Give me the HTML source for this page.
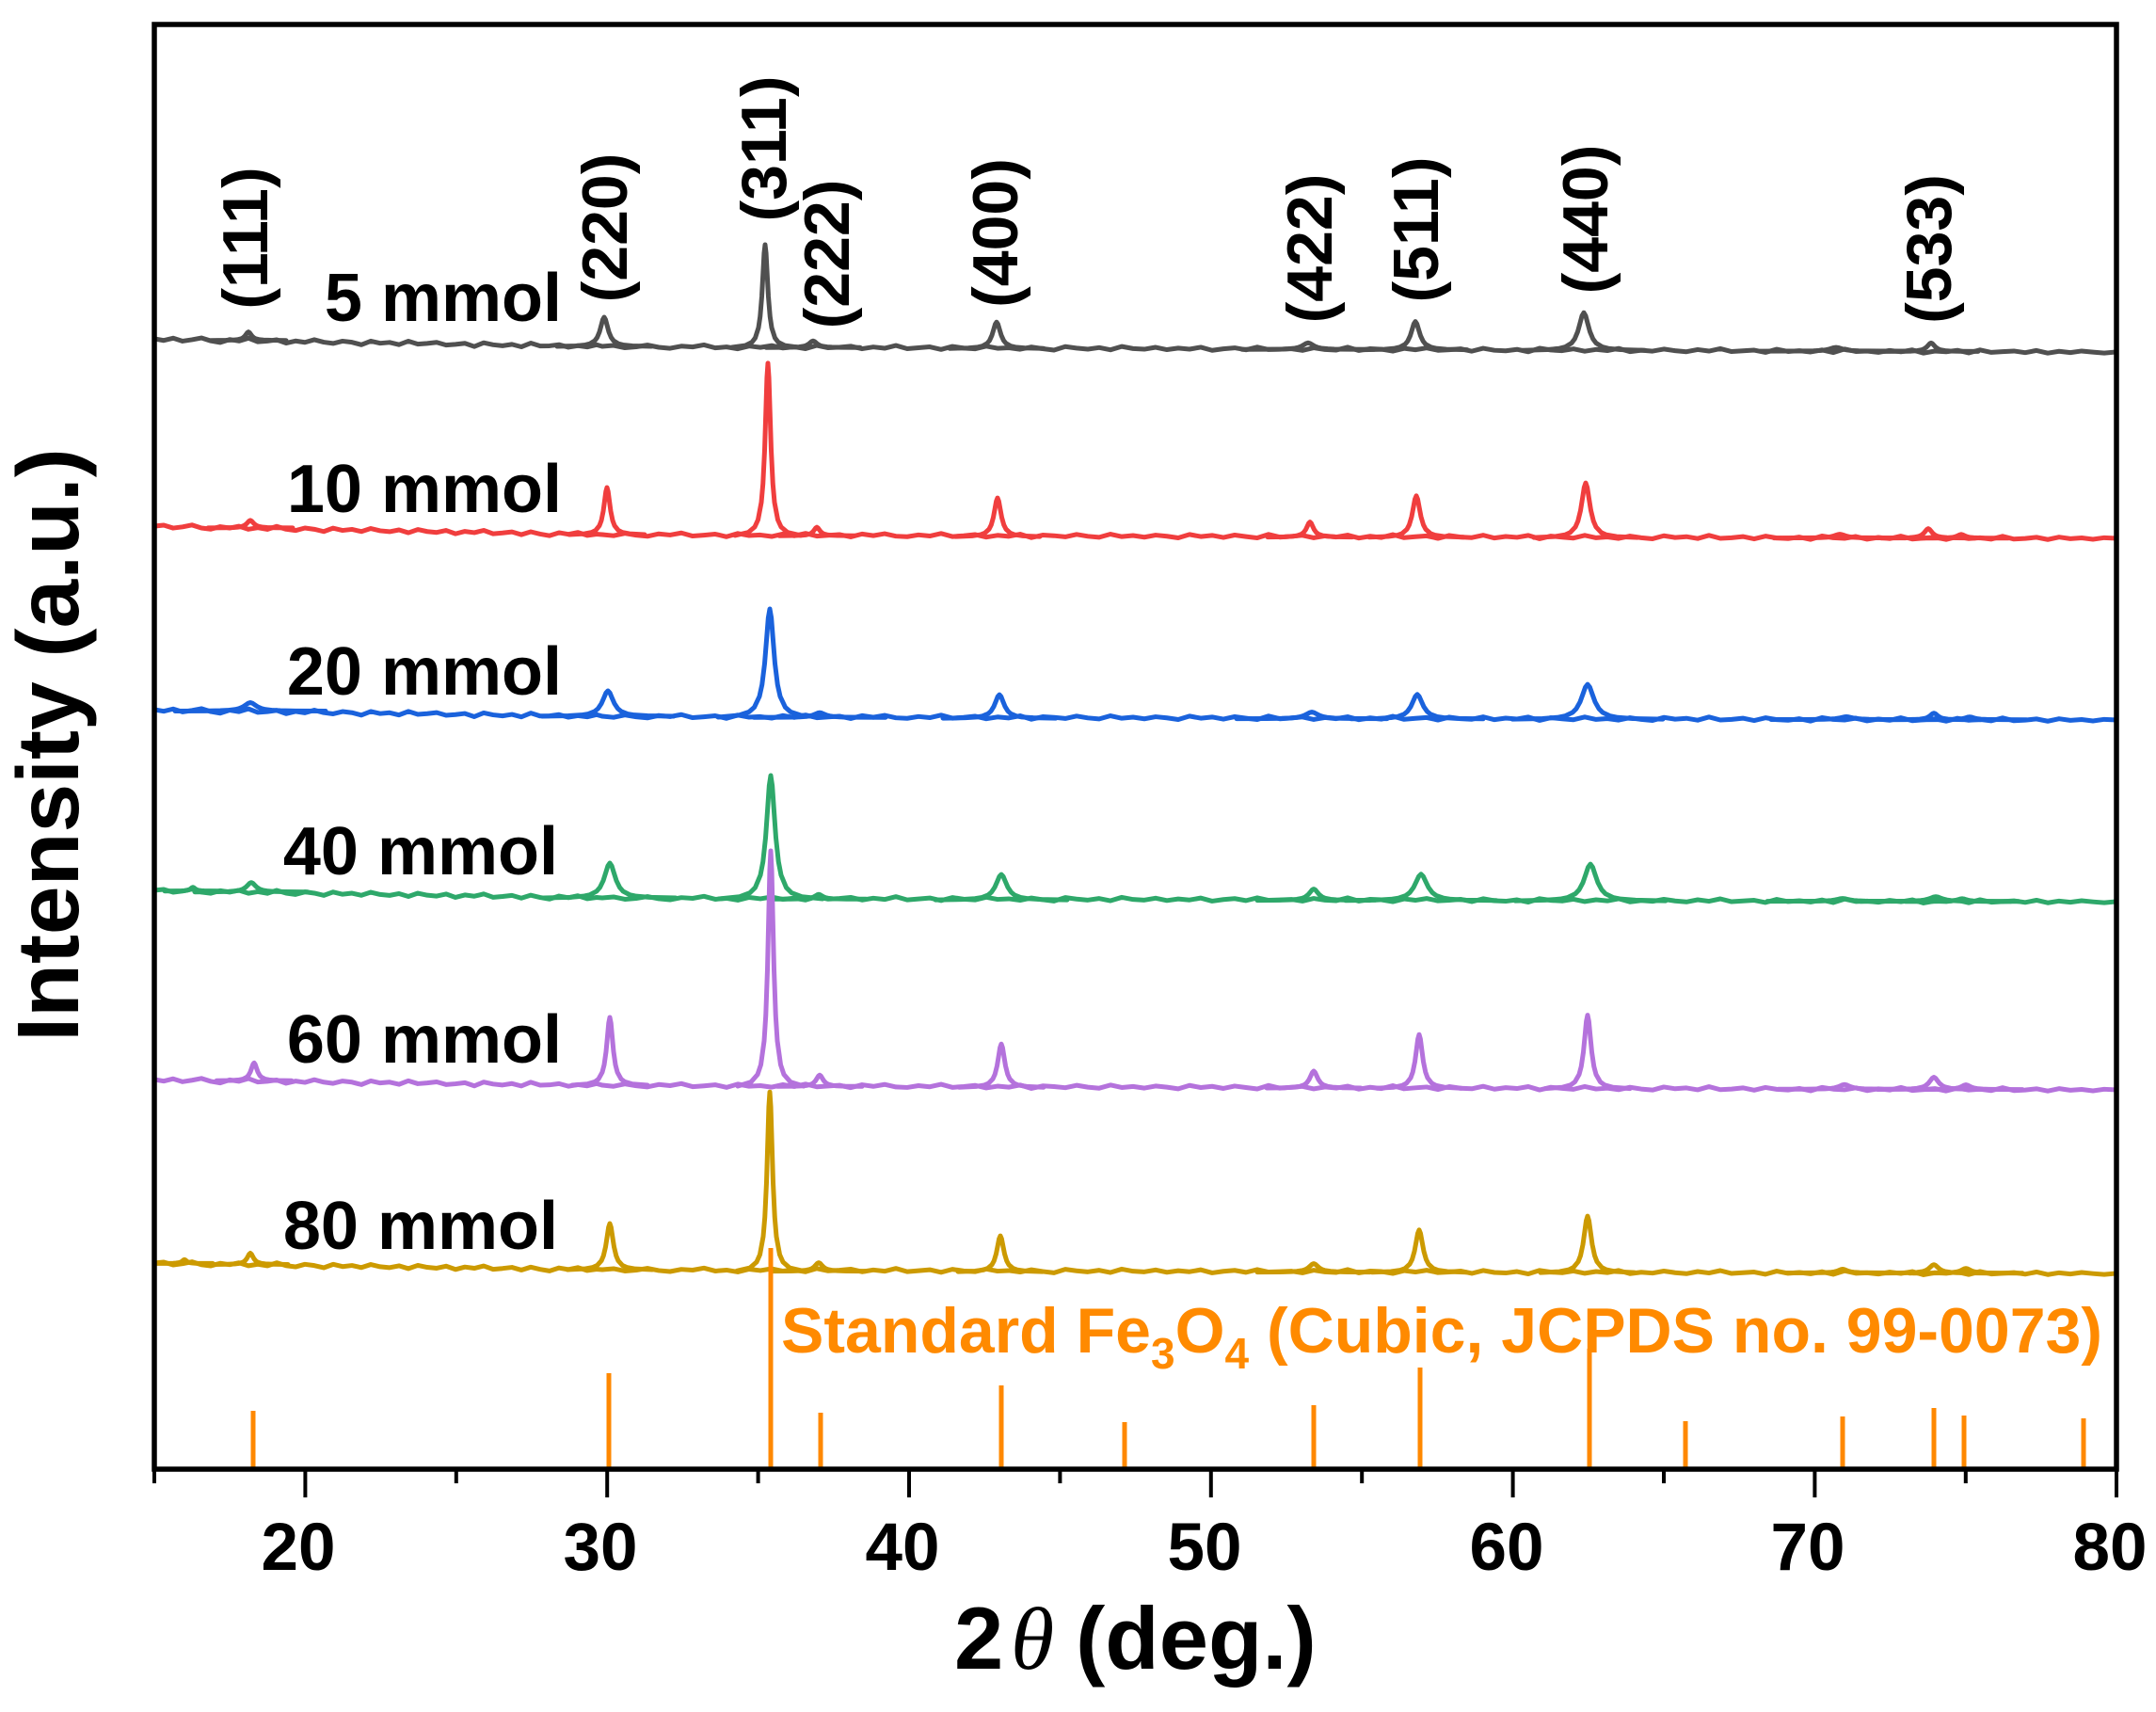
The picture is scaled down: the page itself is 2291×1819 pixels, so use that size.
<!DOCTYPE html>
<html>
<head>
<meta charset="utf-8">
<style>
html,body{margin:0;padding:0;background:#ffffff;}
svg{display:block;}
.pk path{vector-effect:non-scaling-stroke;}
text{font-family:"Liberation Sans",Arial,sans-serif;}
</style>
</head>
<body>
<svg width="2291" height="1819" viewBox="0 0 2291 1819" xmlns="http://www.w3.org/2000/svg">
<defs>
<clipPath id="plotclip"><rect x="166" y="28" width="2081" height="1531"/></clipPath>
</defs>
<rect x="0" y="0" width="2291" height="1819" fill="#ffffff"/>

<!-- traces -->
<g clip-path="url(#plotclip)">
<g class="pk" fill="none" stroke-width="5" stroke-linejoin="round" stroke-linecap="round">
<!-- 5 mmol gray -->
<g stroke="#505050">
<path transform="matrix(1 0.01681 0 1.3 164 360)" d="M0 0L10 1.2L20 -.8L30 1.5L40 .2L50 -1.4L60 .9L70 2.1L80 -.5L90 .6L100 -1.8L110 1L120 .3L130 -.9L140 1.7L150 -.2L160 .8L170 -1.5L180 .4L190 1.3L200 -.7L210 .1L220 2L230 -1.1L240 .5L250 -.3L260 1.4L270 -1.6L280 .7L290 0L300 -1L310 1.1L320 .4L330 -.6L340 1.9L350 -1.3L360 .2L370 .9L380 -.4L390 1.5L400 -1.7L410 .6L420 .3L430 -.8L440 1.2L450 -.2L460 .7L470 -1.2L476 0"/>
<path transform="matrix(1 0.003729 0 1.3 640 368)" d="M0 0L12 -.8L24 1.1L36 .3L48 -1.2L60 .6L72 1.4L84 -.4L96 .2L108 -1.5L120 .9L132 .1L144 1.6L156 -.7L168 .4L180 -1.1L192 .8L204 -.2L216 1.3L228 -1.4L240 .5L252 0L264 -.9L276 1.2L288 -.3L300 .7L312 -1.6L324 1L336 .2L348 -.6L360 1.5L372 -1L384 .3L396 .9L408 -1.3L420 .4L432 -.1L444 1.1L456 -.8L468 .6L480 1.7L492 -1.2L504 0L516 .8L528 -.5L540 1.3L552 -1.5L564 .2L576 .7L588 -.9L600 1L612 -.3L624 .5L636 -1.1L648 1.4L660 .1L672 -.7L684 .9L696 -1.4L708 .6L720 .3L732 -.2L744 1.2L756 -1L768 .4L780 .8L792 -1.6L804 1.1L816 -.4L828 0L840 1.5L852 -.8L864 .3L876 -1.2L888 .7L900 .2L912 -.6L924 1.3L936 -1.1L948 .5L960 .9L972 -.3L984 1.6L996 -1.3L1008 .1L1020 .6L1032 -.9L1044 1L1056 -.5L1068 .4L1080 -1.4L1092 1.2L1104 0L1116 .7L1128 -1L1140 .3L1152 1.1L1164 -.7L1176 .5L1188 -1.5L1200 .8L1212 .2L1224 -.4L1236 1.4L1248 -1.2L1260 .6L1272 -.1L1284 .9L1296 -.8L1308 1.3L1320 -1.6L1332 .4L1344 0L1356 1L1368 -.6L1380 .5L1392 -1.1L1404 1.5L1416 -.2L1428 .3L1440 -.9L1452 1.2L1464 -1.3L1476 .7L1488 .1L1500 -.5L1512 .8L1524 -1L1536 1.1L1548 -.4L1560 .6L1572 -.7L1584 .2L1596 .9L1609 0"/>
<path transform="translate(264 361.7) scale(4 -9)" d="M-10 0L-6 .0173L-4 .0494L-3 .091L-2 .192L-1.5 .3008L-1 .495L-.6 .7326L-.3 .9166L0 1L.3 .9166L.6 .7326L1 .495L1.5 .3008L2 .192L3 .091L4 .0494L6 .0173L10 0"/>
<path transform="translate(642 368) scale(5 -31)" d="M-10 0L-6 .0173L-4 .0494L-3 .091L-2 .192L-1.5 .3008L-1 .495L-.6 .7326L-.3 .9166L0 1L.3 .9166L.6 .7326L1 .495L1.5 .3008L2 .192L3 .091L4 .0494L6 .0173L10 0"/>
<path transform="translate(813 369) scale(3.5 -109)" d="M-10 0L-6 .0173L-4 .0494L-3 .091L-2 .192L-1.5 .3008L-1 .495L-.6 .7326L-.3 .9166L0 1L.3 .9166L.6 .7326L1 .495L1.5 .3008L2 .192L3 .091L4 .0494L6 .0173L10 0"/>
<path transform="translate(864 369.2) scale(5 -7)" d="M-10 0L-6 .0173L-4 .0494L-3 .091L-2 .192L-1.5 .3008L-1 .495L-.6 .7326L-.3 .9166L0 1L.3 .9166L.6 .7326L1 .495L1.5 .3008L2 .192L3 .091L4 .0494L6 .0173L10 0"/>
<path transform="translate(1059 370.2) scale(5 -28)" d="M-10 0L-6 .0173L-4 .0494L-3 .091L-2 .192L-1.5 .3008L-1 .495L-.6 .7326L-.3 .9166L0 1L.3 .9166L.6 .7326L1 .495L1.5 .3008L2 .192L3 .091L4 .0494L6 .0173L10 0"/>
<path transform="translate(1390 371.3) scale(7 -7)" d="M-10 0L-6 .0173L-4 .0494L-3 .091L-2 .192L-1.5 .3008L-1 .495L-.6 .7326L-.3 .9166L0 1L.3 .9166L.6 .7326L1 .495L1.5 .3008L2 .192L3 .091L4 .0494L6 .0173L10 0"/>
<path transform="translate(1504 371.6) scale(5.5 -30)" d="M-10 0L-6 .0173L-4 .0494L-3 .091L-2 .192L-1.5 .3008L-1 .495L-.6 .7326L-.3 .9166L0 1L.3 .9166L.6 .7326L1 .495L1.5 .3008L2 .192L3 .091L4 .0494L6 .0173L10 0"/>
<path transform="translate(1683 372.2) scale(6.5 -40)" d="M-10 0L-6 .0173L-4 .0494L-3 .091L-2 .192L-1.5 .3008L-1 .495L-.6 .7326L-.3 .9166L0 1L.3 .9166L.6 .7326L1 .495L1.5 .3008L2 .192L3 .091L4 .0494L6 .0173L10 0"/>
<path transform="translate(1951 373.1) scale(8 -4)" d="M-10 0L-6 .0173L-4 .0494L-3 .091L-2 .192L-1.5 .3008L-1 .495L-.6 .7326L-.3 .9166L0 1L.3 .9166L.6 .7326L1 .495L1.5 .3008L2 .192L3 .091L4 .0494L6 .0173L10 0"/>
<path transform="translate(2052 373.4) scale(5 -9)" d="M-10 0L-6 .0173L-4 .0494L-3 .091L-2 .192L-1.5 .3008L-1 .495L-.6 .7326L-.3 .9166L0 1L.3 .9166L.6 .7326L1 .495L1.5 .3008L2 .192L3 .091L4 .0494L6 .0173L10 0"/>
</g>
<!-- 10 mmol red -->
<g stroke="#f03e3e">
<path transform="matrix(1 0.01891 0 1.3 164 559)" d="M0 0L10 -.9L20 1.3L30 .2L40 -1.5L50 .8L60 1.6L70 -.6L80 .4L90 -1.2L100 1.1L110 -.3L120 .9L130 -1.7L140 .5L150 1.4L160 -.8L170 .1L180 1.8L190 -1.1L200 .6L210 -.4L220 1.2L230 -1.4L240 .3L250 .9L260 -.7L270 1.5L280 -1.3L290 .2L300 .8L310 -1L320 1.6L330 -.5L340 .4L350 -1.6L360 1L370 .2L380 -.8L390 1.3L400 -1.2L410 .5L420 1.7L430 -.9L440 .3L450 -1.4L460 .9L470 -.3L476 0"/>
<path transform="matrix(1 0.002486 0 1.3 640 568)" d="M0 0L12 .9L24 -1.1L36 .4L48 1.3L60 -.7L72 .2L84 -1.5L96 1L108 .3L120 -.6L132 1.5L144 -1.2L156 .5L168 0L180 1.2L192 -.9L204 .6L216 -1.4L228 .8L240 .1L252 -.5L264 1.4L276 -1L288 .3L300 -1.3L312 .7L324 1.1L336 -.4L348 .5L360 -1.6L372 .9L384 .2L396 -.8L408 1.3L420 -.2L432 .6L444 -1.2L456 1.6L468 -.5L480 0L492 .9L504 -1.1L516 .4L528 1.2L540 -1.4L552 .6L564 -.3L576 1L588 -.7L600 .2L612 1.5L624 -1.3L636 .4L648 -.6L660 1.1L672 -.9L684 .3L696 1.4L708 -1.5L720 .7L732 0L744 -.8L756 1.2L768 -.4L780 .5L792 -1.1L804 1.3L816 -.2L828 .8L840 -1.6L852 .9L864 .1L876 -.6L888 1.4L900 -1L912 .3L924 .7L936 -1.3L948 1L960 -.3L972 .4L984 -1.2L996 1.5L1008 -.7L1020 .2L1032 .9L1044 -1.4L1056 .6L1068 -.1L1080 1.1L1092 -.9L1104 .5L1116 1.3L1128 -1.2L1140 .2L1152 -.5L1164 1L1176 -1.6L1188 .8L1200 .3L1212 -.7L1224 1.2L1236 -1.1L1248 .4L1260 .9L1272 -.4L1284 1.5L1296 -1.3L1308 .1L1320 .6L1332 -1L1344 1.2L1356 -.3L1368 .7L1380 -1.4L1392 1L1404 .2L1416 -.6L1428 1.3L1440 -1.1L1452 .5L1464 -.2L1476 .9L1488 -1.5L1500 .8L1512 .3L1524 -.7L1536 1.1L1548 -.9L1560 .4L1572 -.3L1584 .8L1596 -.5L1609 0"/>
<path transform="translate(266 560.9) scale(4.5 -8)" d="M-10 0L-6 .0173L-4 .0494L-3 .091L-2 .192L-1.5 .3008L-1 .495L-.6 .7326L-.3 .9166L0 1L.3 .9166L.6 .7326L1 .495L1.5 .3008L2 .192L3 .091L4 .0494L6 .0173L10 0"/>
<path transform="translate(645 568) scale(4 -50)" d="M-10 0L-6 .0173L-4 .0494L-3 .091L-2 .192L-1.5 .3008L-1 .495L-.6 .7326L-.3 .9166L0 1L.3 .9166L.6 .7326L1 .495L1.5 .3008L2 .192L3 .091L4 .0494L6 .0173L10 0"/>
<path transform="translate(816 568.9) scale(3.5 -183)" d="M-10 0L-6 .0173L-4 .0494L-3 .091L-2 .192L-1.5 .3008L-1 .495L-.6 .7326L-.3 .9166L0 1L.3 .9166L.6 .7326L1 .495L1.5 .3008L2 .192L3 .091L4 .0494L6 .0173L10 0"/>
<path transform="translate(868 569.2) scale(4 -9)" d="M-10 0L-6 .0173L-4 .0494L-3 .091L-2 .192L-1.5 .3008L-1 .495L-.6 .7326L-.3 .9166L0 1L.3 .9166L.6 .7326L1 .495L1.5 .3008L2 .192L3 .091L4 .0494L6 .0173L10 0"/>
<path transform="translate(1060 570.1) scale(4.5 -41)" d="M-10 0L-6 .0173L-4 .0494L-3 .091L-2 .192L-1.5 .3008L-1 .495L-.6 .7326L-.3 .9166L0 1L.3 .9166L.6 .7326L1 .495L1.5 .3008L2 .192L3 .091L4 .0494L6 .0173L10 0"/>
<path transform="translate(1392 570.6) scale(4.5 -16)" d="M-10 0L-6 .0173L-4 .0494L-3 .091L-2 .192L-1.5 .3008L-1 .495L-.6 .7326L-.3 .9166L0 1L.3 .9166L.6 .7326L1 .495L1.5 .3008L2 .192L3 .091L4 .0494L6 .0173L10 0"/>
<path transform="translate(1505 570.8) scale(5 -44)" d="M-10 0L-6 .0173L-4 .0494L-3 .091L-2 .192L-1.5 .3008L-1 .495L-.6 .7326L-.3 .9166L0 1L.3 .9166L.6 .7326L1 .495L1.5 .3008L2 .192L3 .091L4 .0494L6 .0173L10 0"/>
<path transform="translate(1685 571.1) scale(5.5 -58)" d="M-10 0L-6 .0173L-4 .0494L-3 .091L-2 .192L-1.5 .3008L-1 .495L-.6 .7326L-.3 .9166L0 1L.3 .9166L.6 .7326L1 .495L1.5 .3008L2 .192L3 .091L4 .0494L6 .0173L10 0"/>
<path transform="translate(1955 571.6) scale(7 -4)" d="M-10 0L-6 .0173L-4 .0494L-3 .091L-2 .192L-1.5 .3008L-1 .495L-.6 .7326L-.3 .9166L0 1L.3 .9166L.6 .7326L1 .495L1.5 .3008L2 .192L3 .091L4 .0494L6 .0173L10 0"/>
<path transform="translate(2049 571.7) scale(5 -10)" d="M-10 0L-6 .0173L-4 .0494L-3 .091L-2 .192L-1.5 .3008L-1 .495L-.6 .7326L-.3 .9166L0 1L.3 .9166L.6 .7326L1 .495L1.5 .3008L2 .192L3 .091L4 .0494L6 .0173L10 0"/>
<path transform="translate(2084 571.8) scale(5 -4)" d="M-10 0L-6 .0173L-4 .0494L-3 .091L-2 .192L-1.5 .3008L-1 .495L-.6 .7326L-.3 .9166L0 1L.3 .9166L.6 .7326L1 .495L1.5 .3008L2 .192L3 .091L4 .0494L6 .0173L10 0"/>
</g>
<!-- 20 mmol blue -->
<g stroke="#1a62dc">
<path transform="matrix(1 0.01471 0 1.3 164 754)" d="M0 0L10 1.2L20 -.8L30 1.5L40 .2L50 -1.4L60 .9L70 2.1L80 -.5L90 .6L100 -1.8L110 1L120 .3L130 -.9L140 1.7L150 -.2L160 .8L170 -1.5L180 .4L190 1.3L200 -.7L210 .1L220 2L230 -1.1L240 .5L250 -.3L260 1.4L270 -1.6L280 .7L290 0L300 -1L310 1.1L320 .4L330 -.6L340 1.9L350 -1.3L360 .2L370 .9L380 -.4L390 1.5L400 -1.7L410 .6L420 .3L430 -.8L440 1.2L450 -.2L460 .7L470 -1.2L476 0"/>
<path transform="matrix(1 0.002486 0 1.3 640 761)" d="M0 0L12 .9L24 -1.1L36 .4L48 1.3L60 -.7L72 .2L84 -1.5L96 1L108 .3L120 -.6L132 1.5L144 -1.2L156 .5L168 0L180 1.2L192 -.9L204 .6L216 -1.4L228 .8L240 .1L252 -.5L264 1.4L276 -1L288 .3L300 -1.3L312 .7L324 1.1L336 -.4L348 .5L360 -1.6L372 .9L384 .2L396 -.8L408 1.3L420 -.2L432 .6L444 -1.2L456 1.6L468 -.5L480 0L492 .9L504 -1.1L516 .4L528 1.2L540 -1.4L552 .6L564 -.3L576 1L588 -.7L600 .2L612 1.5L624 -1.3L636 .4L648 -.6L660 1.1L672 -.9L684 .3L696 1.4L708 -1.5L720 .7L732 0L744 -.8L756 1.2L768 -.4L780 .5L792 -1.1L804 1.3L816 -.2L828 .8L840 -1.6L852 .9L864 .1L876 -.6L888 1.4L900 -1L912 .3L924 .7L936 -1.3L948 1L960 -.3L972 .4L984 -1.2L996 1.5L1008 -.7L1020 .2L1032 .9L1044 -1.4L1056 .6L1068 -.1L1080 1.1L1092 -.9L1104 .5L1116 1.3L1128 -1.2L1140 .2L1152 -.5L1164 1L1176 -1.6L1188 .8L1200 .3L1212 -.7L1224 1.2L1236 -1.1L1248 .4L1260 .9L1272 -.4L1284 1.5L1296 -1.3L1308 .1L1320 .6L1332 -1L1344 1.2L1356 -.3L1368 .7L1380 -1.4L1392 1L1404 .2L1416 -.6L1428 1.3L1440 -1.1L1452 .5L1464 -.2L1476 .9L1488 -1.5L1500 .8L1512 .3L1524 -.7L1536 1.1L1548 -.9L1560 .4L1572 -.3L1584 .8L1596 -.5L1609 0"/>
<path transform="translate(266 755.5) scale(8 -9)" d="M-10 0L-6 .0173L-4 .0494L-3 .091L-2 .192L-1.5 .3008L-1 .495L-.6 .7326L-.3 .9166L0 1L.3 .9166L.6 .7326L1 .495L1.5 .3008L2 .192L3 .091L4 .0494L6 .0173L10 0"/>
<path transform="translate(646 761) scale(7 -27)" d="M-10 0L-6 .0173L-4 .0494L-3 .091L-2 .192L-1.5 .3008L-1 .495L-.6 .7326L-.3 .9166L0 1L.3 .9166L.6 .7326L1 .495L1.5 .3008L2 .192L3 .091L4 .0494L6 .0173L10 0"/>
<path transform="translate(818 762) scale(5.5 -115)" d="M-10 0L-6 .0173L-4 .0494L-3 .091L-2 .192L-1.5 .3008L-1 .495L-.6 .7326L-.3 .9166L0 1L.3 .9166L.6 .7326L1 .495L1.5 .3008L2 .192L3 .091L4 .0494L6 .0173L10 0"/>
<path transform="translate(871 762.2) scale(7 -5)" d="M-10 0L-6 .0173L-4 .0494L-3 .091L-2 .192L-1.5 .3008L-1 .495L-.6 .7326L-.3 .9166L0 1L.3 .9166L.6 .7326L1 .495L1.5 .3008L2 .192L3 .091L4 .0494L6 .0173L10 0"/>
<path transform="translate(1062 763.1) scale(6 -25)" d="M-10 0L-6 .0173L-4 .0494L-3 .091L-2 .192L-1.5 .3008L-1 .495L-.6 .7326L-.3 .9166L0 1L.3 .9166L.6 .7326L1 .495L1.5 .3008L2 .192L3 .091L4 .0494L6 .0173L10 0"/>
<path transform="translate(1394 763.6) scale(8 -7)" d="M-10 0L-6 .0173L-4 .0494L-3 .091L-2 .192L-1.5 .3008L-1 .495L-.6 .7326L-.3 .9166L0 1L.3 .9166L.6 .7326L1 .495L1.5 .3008L2 .192L3 .091L4 .0494L6 .0173L10 0"/>
<path transform="translate(1506 763.8) scale(7 -26)" d="M-10 0L-6 .0173L-4 .0494L-3 .091L-2 .192L-1.5 .3008L-1 .495L-.6 .7326L-.3 .9166L0 1L.3 .9166L.6 .7326L1 .495L1.5 .3008L2 .192L3 .091L4 .0494L6 .0173L10 0"/>
<path transform="translate(1687 764.1) scale(8 -37)" d="M-10 0L-6 .0173L-4 .0494L-3 .091L-2 .192L-1.5 .3008L-1 .495L-.6 .7326L-.3 .9166L0 1L.3 .9166L.6 .7326L1 .495L1.5 .3008L2 .192L3 .091L4 .0494L6 .0173L10 0"/>
<path transform="translate(1962 764.5) scale(8 -3)" d="M-10 0L-6 .0173L-4 .0494L-3 .091L-2 .192L-1.5 .3008L-1 .495L-.6 .7326L-.3 .9166L0 1L.3 .9166L.6 .7326L1 .495L1.5 .3008L2 .192L3 .091L4 .0494L6 .0173L10 0"/>
<path transform="translate(2055 764.7) scale(5 -7)" d="M-10 0L-6 .0173L-4 .0494L-3 .091L-2 .192L-1.5 .3008L-1 .495L-.6 .7326L-.3 .9166L0 1L.3 .9166L.6 .7326L1 .495L1.5 .3008L2 .192L3 .091L4 .0494L6 .0173L10 0"/>
<path transform="translate(2093 764.7) scale(6 -3)" d="M-10 0L-6 .0173L-4 .0494L-3 .091L-2 .192L-1.5 .3008L-1 .495L-.6 .7326L-.3 .9166L0 1L.3 .9166L.6 .7326L1 .495L1.5 .3008L2 .192L3 .091L4 .0494L6 .0173L10 0"/>
</g>
<!-- 40 mmol green -->
<g stroke="#2ea86a">
<path transform="matrix(1 0.01681 0 1.3 164 946)" d="M0 0L10 -.9L20 1.3L30 .2L40 -1.5L50 .8L60 1.6L70 -.6L80 .4L90 -1.2L100 1.1L110 -.3L120 .9L130 -1.7L140 .5L150 1.4L160 -.8L170 .1L180 1.8L190 -1.1L200 .6L210 -.4L220 1.2L230 -1.4L240 .3L250 .9L260 -.7L270 1.5L280 -1.3L290 .2L300 .8L310 -1L320 1.6L330 -.5L340 .4L350 -1.6L360 1L370 .2L380 -.8L390 1.3L400 -1.2L410 .5L420 1.7L430 -.9L440 .3L450 -1.4L460 .9L470 -.3L476 0"/>
<path transform="matrix(1 0.002486 0 1.3 640 954)" d="M0 0L12 -.8L24 1.1L36 .3L48 -1.2L60 .6L72 1.4L84 -.4L96 .2L108 -1.5L120 .9L132 .1L144 1.6L156 -.7L168 .4L180 -1.1L192 .8L204 -.2L216 1.3L228 -1.4L240 .5L252 0L264 -.9L276 1.2L288 -.3L300 .7L312 -1.6L324 1L336 .2L348 -.6L360 1.5L372 -1L384 .3L396 .9L408 -1.3L420 .4L432 -.1L444 1.1L456 -.8L468 .6L480 1.7L492 -1.2L504 0L516 .8L528 -.5L540 1.3L552 -1.5L564 .2L576 .7L588 -.9L600 1L612 -.3L624 .5L636 -1.1L648 1.4L660 .1L672 -.7L684 .9L696 -1.4L708 .6L720 .3L732 -.2L744 1.2L756 -1L768 .4L780 .8L792 -1.6L804 1.1L816 -.4L828 0L840 1.5L852 -.8L864 .3L876 -1.2L888 .7L900 .2L912 -.6L924 1.3L936 -1.1L948 .5L960 .9L972 -.3L984 1.6L996 -1.3L1008 .1L1020 .6L1032 -.9L1044 1L1056 -.5L1068 .4L1080 -1.4L1092 1.2L1104 0L1116 .7L1128 -1L1140 .3L1152 1.1L1164 -.7L1176 .5L1188 -1.5L1200 .8L1212 .2L1224 -.4L1236 1.4L1248 -1.2L1260 .6L1272 -.1L1284 .9L1296 -.8L1308 1.3L1320 -1.6L1332 .4L1344 0L1356 1L1368 -.6L1380 .5L1392 -1.1L1404 1.5L1416 -.2L1428 .3L1440 -.9L1452 1.2L1464 -1.3L1476 .7L1488 .1L1500 -.5L1512 .8L1524 -1L1536 1.1L1548 -.4L1560 .6L1572 -.7L1584 .2L1596 .9L1609 0"/>
<path transform="translate(205 946.7) scale(3 -4)" d="M-10 0L-6 .0173L-4 .0494L-3 .091L-2 .192L-1.5 .3008L-1 .495L-.6 .7326L-.3 .9166L0 1L.3 .9166L.6 .7326L1 .495L1.5 .3008L2 .192L3 .091L4 .0494L6 .0173L10 0"/>
<path transform="translate(267 947.7) scale(6 -10)" d="M-10 0L-6 .0173L-4 .0494L-3 .091L-2 .192L-1.5 .3008L-1 .495L-.6 .7326L-.3 .9166L0 1L.3 .9166L.6 .7326L1 .495L1.5 .3008L2 .192L3 .091L4 .0494L6 .0173L10 0"/>
<path transform="translate(648 954) scale(7 -37)" d="M-10 0L-6 .0173L-4 .0494L-3 .091L-2 .192L-1.5 .3008L-1 .495L-.6 .7326L-.3 .9166L0 1L.3 .9166L.6 .7326L1 .495L1.5 .3008L2 .192L3 .091L4 .0494L6 .0173L10 0"/>
<path transform="translate(819 955) scale(5.5 -131)" d="M-10 0L-6 .0173L-4 .0494L-3 .091L-2 .192L-1.5 .3008L-1 .495L-.6 .7326L-.3 .9166L0 1L.3 .9166L.6 .7326L1 .495L1.5 .3008L2 .192L3 .091L4 .0494L6 .0173L10 0"/>
<path transform="translate(870 955.3) scale(5 -5)" d="M-10 0L-6 .0173L-4 .0494L-3 .091L-2 .192L-1.5 .3008L-1 .495L-.6 .7326L-.3 .9166L0 1L.3 .9166L.6 .7326L1 .495L1.5 .3008L2 .192L3 .091L4 .0494L6 .0173L10 0"/>
<path transform="translate(1064 956.1) scale(7 -27)" d="M-10 0L-6 .0173L-4 .0494L-3 .091L-2 .192L-1.5 .3008L-1 .495L-.6 .7326L-.3 .9166L0 1L.3 .9166L.6 .7326L1 .495L1.5 .3008L2 .192L3 .091L4 .0494L6 .0173L10 0"/>
<path transform="translate(1396 956.6) scale(6 -12)" d="M-10 0L-6 .0173L-4 .0494L-3 .091L-2 .192L-1.5 .3008L-1 .495L-.6 .7326L-.3 .9166L0 1L.3 .9166L.6 .7326L1 .495L1.5 .3008L2 .192L3 .091L4 .0494L6 .0173L10 0"/>
<path transform="translate(1510 956.8) scale(8 -28)" d="M-10 0L-6 .0173L-4 .0494L-3 .091L-2 .192L-1.5 .3008L-1 .495L-.6 .7326L-.3 .9166L0 1L.3 .9166L.6 .7326L1 .495L1.5 .3008L2 .192L3 .091L4 .0494L6 .0173L10 0"/>
<path transform="translate(1690 957.1) scale(8 -39)" d="M-10 0L-6 .0173L-4 .0494L-3 .091L-2 .192L-1.5 .3008L-1 .495L-.6 .7326L-.3 .9166L0 1L.3 .9166L.6 .7326L1 .495L1.5 .3008L2 .192L3 .091L4 .0494L6 .0173L10 0"/>
<path transform="translate(1958 957.6) scale(8 -3)" d="M-10 0L-6 .0173L-4 .0494L-3 .091L-2 .192L-1.5 .3008L-1 .495L-.6 .7326L-.3 .9166L0 1L.3 .9166L.6 .7326L1 .495L1.5 .3008L2 .192L3 .091L4 .0494L6 .0173L10 0"/>
<path transform="translate(2057 957.7) scale(8 -5)" d="M-10 0L-6 .0173L-4 .0494L-3 .091L-2 .192L-1.5 .3008L-1 .495L-.6 .7326L-.3 .9166L0 1L.3 .9166L.6 .7326L1 .495L1.5 .3008L2 .192L3 .091L4 .0494L6 .0173L10 0"/>
<path transform="translate(2085 957.8) scale(6 -3)" d="M-10 0L-6 .0173L-4 .0494L-3 .091L-2 .192L-1.5 .3008L-1 .495L-.6 .7326L-.3 .9166L0 1L.3 .9166L.6 .7326L1 .495L1.5 .3008L2 .192L3 .091L4 .0494L6 .0173L10 0"/>
</g>
<!-- 60 mmol purple -->
<g stroke="#b472dc">
<path transform="matrix(1 0.01261 0 1.3 164 1147)" d="M0 0L10 1.2L20 -.8L30 1.5L40 .2L50 -1.4L60 .9L70 2.1L80 -.5L90 .6L100 -1.8L110 1L120 .3L130 -.9L140 1.7L150 -.2L160 .8L170 -1.5L180 .4L190 1.3L200 -.7L210 .1L220 2L230 -1.1L240 .5L250 -.3L260 1.4L270 -1.6L280 .7L290 0L300 -1L310 1.1L320 .4L330 -.6L340 1.9L350 -1.3L360 .2L370 .9L380 -.4L390 1.5L400 -1.7L410 .6L420 .3L430 -.8L440 1.2L450 -.2L460 .7L470 -1.2L476 0"/>
<path transform="matrix(1 0.003108 0 1.3 640 1153)" d="M0 0L12 .9L24 -1.1L36 .4L48 1.3L60 -.7L72 .2L84 -1.5L96 1L108 .3L120 -.6L132 1.5L144 -1.2L156 .5L168 0L180 1.2L192 -.9L204 .6L216 -1.4L228 .8L240 .1L252 -.5L264 1.4L276 -1L288 .3L300 -1.3L312 .7L324 1.1L336 -.4L348 .5L360 -1.6L372 .9L384 .2L396 -.8L408 1.3L420 -.2L432 .6L444 -1.2L456 1.6L468 -.5L480 0L492 .9L504 -1.1L516 .4L528 1.2L540 -1.4L552 .6L564 -.3L576 1L588 -.7L600 .2L612 1.5L624 -1.3L636 .4L648 -.6L660 1.1L672 -.9L684 .3L696 1.4L708 -1.5L720 .7L732 0L744 -.8L756 1.2L768 -.4L780 .5L792 -1.1L804 1.3L816 -.2L828 .8L840 -1.6L852 .9L864 .1L876 -.6L888 1.4L900 -1L912 .3L924 .7L936 -1.3L948 1L960 -.3L972 .4L984 -1.2L996 1.5L1008 -.7L1020 .2L1032 .9L1044 -1.4L1056 .6L1068 -.1L1080 1.1L1092 -.9L1104 .5L1116 1.3L1128 -1.2L1140 .2L1152 -.5L1164 1L1176 -1.6L1188 .8L1200 .3L1212 -.7L1224 1.2L1236 -1.1L1248 .4L1260 .9L1272 -.4L1284 1.5L1296 -1.3L1308 .1L1320 .6L1332 -1L1344 1.2L1356 -.3L1368 .7L1380 -1.4L1392 1L1404 .2L1416 -.6L1428 1.3L1440 -1.1L1452 .5L1464 -.2L1476 .9L1488 -1.5L1500 .8L1512 .3L1524 -.7L1536 1.1L1548 -.9L1560 .4L1572 -.3L1584 .8L1596 -.5L1609 0"/>
<path transform="translate(270 1148.3) scale(4 -19)" d="M-10 0L-6 .0173L-4 .0494L-3 .091L-2 .192L-1.5 .3008L-1 .495L-.6 .7326L-.3 .9166L0 1L.3 .9166L.6 .7326L1 .495L1.5 .3008L2 .192L3 .091L4 .0494L6 .0173L10 0"/>
<path transform="translate(648 1153) scale(4 -72)" d="M-10 0L-6 .0173L-4 .0494L-3 .091L-2 .192L-1.5 .3008L-1 .495L-.6 .7326L-.3 .9166L0 1L.3 .9166L.6 .7326L1 .495L1.5 .3008L2 .192L3 .091L4 .0494L6 .0173L10 0"/>
<path transform="translate(819 1154) scale(3.5 -250)" d="M-10 0L-6 .0173L-4 .0494L-3 .091L-2 .192L-1.5 .3008L-1 .495L-.6 .7326L-.3 .9166L0 1L.3 .9166L.6 .7326L1 .495L1.5 .3008L2 .192L3 .091L4 .0494L6 .0173L10 0"/>
<path transform="translate(871 1154.3) scale(4.5 -12)" d="M-10 0L-6 .0173L-4 .0494L-3 .091L-2 .192L-1.5 .3008L-1 .495L-.6 .7326L-.3 .9166L0 1L.3 .9166L.6 .7326L1 .495L1.5 .3008L2 .192L3 .091L4 .0494L6 .0173L10 0"/>
<path transform="translate(1064 1155.2) scale(4.5 -46)" d="M-10 0L-6 .0173L-4 .0494L-3 .091L-2 .192L-1.5 .3008L-1 .495L-.6 .7326L-.3 .9166L0 1L.3 .9166L.6 .7326L1 .495L1.5 .3008L2 .192L3 .091L4 .0494L6 .0173L10 0"/>
<path transform="translate(1396 1156) scale(5 -18)" d="M-10 0L-6 .0173L-4 .0494L-3 .091L-2 .192L-1.5 .3008L-1 .495L-.6 .7326L-.3 .9166L0 1L.3 .9166L.6 .7326L1 .495L1.5 .3008L2 .192L3 .091L4 .0494L6 .0173L10 0"/>
<path transform="translate(1508 1156.2) scale(4.5 -57)" d="M-10 0L-6 .0173L-4 .0494L-3 .091L-2 .192L-1.5 .3008L-1 .495L-.6 .7326L-.3 .9166L0 1L.3 .9166L.6 .7326L1 .495L1.5 .3008L2 .192L3 .091L4 .0494L6 .0173L10 0"/>
<path transform="translate(1687 1156.6) scale(4.5 -78)" d="M-10 0L-6 .0173L-4 .0494L-3 .091L-2 .192L-1.5 .3008L-1 .495L-.6 .7326L-.3 .9166L0 1L.3 .9166L.6 .7326L1 .495L1.5 .3008L2 .192L3 .091L4 .0494L6 .0173L10 0"/>
<path transform="translate(1960 1157.3) scale(7 -5)" d="M-10 0L-6 .0173L-4 .0494L-3 .091L-2 .192L-1.5 .3008L-1 .495L-.6 .7326L-.3 .9166L0 1L.3 .9166L.6 .7326L1 .495L1.5 .3008L2 .192L3 .091L4 .0494L6 .0173L10 0"/>
<path transform="translate(2055 1157.5) scale(6 -13)" d="M-10 0L-6 .0173L-4 .0494L-3 .091L-2 .192L-1.5 .3008L-1 .495L-.6 .7326L-.3 .9166L0 1L.3 .9166L.6 .7326L1 .495L1.5 .3008L2 .192L3 .091L4 .0494L6 .0173L10 0"/>
<path transform="translate(2089 1157.6) scale(6 -5)" d="M-10 0L-6 .0173L-4 .0494L-3 .091L-2 .192L-1.5 .3008L-1 .495L-.6 .7326L-.3 .9166L0 1L.3 .9166L.6 .7326L1 .495L1.5 .3008L2 .192L3 .091L4 .0494L6 .0173L10 0"/>
</g>
<!-- 80 mmol gold -->
<g stroke="#cc9a00">
<path transform="matrix(1 0.01471 0 1.3 164 1342)" d="M0 0L10 -.9L20 1.3L30 .2L40 -1.5L50 .8L60 1.6L70 -.6L80 .4L90 -1.2L100 1.1L110 -.3L120 .9L130 -1.7L140 .5L150 1.4L160 -.8L170 .1L180 1.8L190 -1.1L200 .6L210 -.4L220 1.2L230 -1.4L240 .3L250 .9L260 -.7L270 1.5L280 -1.3L290 .2L300 .8L310 -1L320 1.6L330 -.5L340 .4L350 -1.6L360 1L370 .2L380 -.8L390 1.3L400 -1.2L410 .5L420 1.7L430 -.9L440 .3L450 -1.4L460 .9L470 -.3L476 0"/>
<path transform="matrix(1 0.002486 0 1.3 640 1349)" d="M0 0L12 -.8L24 1.1L36 .3L48 -1.2L60 .6L72 1.4L84 -.4L96 .2L108 -1.5L120 .9L132 .1L144 1.6L156 -.7L168 .4L180 -1.1L192 .8L204 -.2L216 1.3L228 -1.4L240 .5L252 0L264 -.9L276 1.2L288 -.3L300 .7L312 -1.6L324 1L336 .2L348 -.6L360 1.5L372 -1L384 .3L396 .9L408 -1.3L420 .4L432 -.1L444 1.1L456 -.8L468 .6L480 1.7L492 -1.2L504 0L516 .8L528 -.5L540 1.3L552 -1.5L564 .2L576 .7L588 -.9L600 1L612 -.3L624 .5L636 -1.1L648 1.4L660 .1L672 -.7L684 .9L696 -1.4L708 .6L720 .3L732 -.2L744 1.2L756 -1L768 .4L780 .8L792 -1.6L804 1.1L816 -.4L828 0L840 1.5L852 -.8L864 .3L876 -1.2L888 .7L900 .2L912 -.6L924 1.3L936 -1.1L948 .5L960 .9L972 -.3L984 1.6L996 -1.3L1008 .1L1020 .6L1032 -.9L1044 1L1056 -.5L1068 .4L1080 -1.4L1092 1.2L1104 0L1116 .7L1128 -1L1140 .3L1152 1.1L1164 -.7L1176 .5L1188 -1.5L1200 .8L1212 .2L1224 -.4L1236 1.4L1248 -1.2L1260 .6L1272 -.1L1284 .9L1296 -.8L1308 1.3L1320 -1.6L1332 .4L1344 0L1356 1L1368 -.6L1380 .5L1392 -1.1L1404 1.5L1416 -.2L1428 .3L1440 -.9L1452 1.2L1464 -1.3L1476 .7L1488 .1L1500 -.5L1512 .8L1524 -1L1536 1.1L1548 -.4L1560 .6L1572 -.7L1584 .2L1596 .9L1609 0"/>
<path transform="translate(196 1342.4) scale(3 -4)" d="M-10 0L-6 .0173L-4 .0494L-3 .091L-2 .192L-1.5 .3008L-1 .495L-.6 .7326L-.3 .9166L0 1L.3 .9166L.6 .7326L1 .495L1.5 .3008L2 .192L3 .091L4 .0494L6 .0173L10 0"/>
<path transform="translate(266 1343.5) scale(4 -12)" d="M-10 0L-6 .0173L-4 .0494L-3 .091L-2 .192L-1.5 .3008L-1 .495L-.6 .7326L-.3 .9166L0 1L.3 .9166L.6 .7326L1 .495L1.5 .3008L2 .192L3 .091L4 .0494L6 .0173L10 0"/>
<path transform="translate(648 1349) scale(4.5 -49)" d="M-10 0L-6 .0173L-4 .0494L-3 .091L-2 .192L-1.5 .3008L-1 .495L-.6 .7326L-.3 .9166L0 1L.3 .9166L.6 .7326L1 .495L1.5 .3008L2 .192L3 .091L4 .0494L6 .0173L10 0"/>
<path transform="translate(818 1350.3) scale(3.5 -190)" d="M-10 0L-6 .0173L-4 .0494L-3 .091L-2 .192L-1.5 .3008L-1 .495L-.6 .7326L-.3 .9166L0 1L.3 .9166L.6 .7326L1 .495L1.5 .3008L2 .192L3 .091L4 .0494L6 .0173L10 0"/>
<path transform="translate(870 1350.6) scale(5 -9)" d="M-10 0L-6 .0173L-4 .0494L-3 .091L-2 .192L-1.5 .3008L-1 .495L-.6 .7326L-.3 .9166L0 1L.3 .9166L.6 .7326L1 .495L1.5 .3008L2 .192L3 .091L4 .0494L6 .0173L10 0"/>
<path transform="translate(1063 1351.1) scale(4.5 -38)" d="M-10 0L-6 .0173L-4 .0494L-3 .091L-2 .192L-1.5 .3008L-1 .495L-.6 .7326L-.3 .9166L0 1L.3 .9166L.6 .7326L1 .495L1.5 .3008L2 .192L3 .091L4 .0494L6 .0173L10 0"/>
<path transform="translate(1396 1351.6) scale(6 -9)" d="M-10 0L-6 .0173L-4 .0494L-3 .091L-2 .192L-1.5 .3008L-1 .495L-.6 .7326L-.3 .9166L0 1L.3 .9166L.6 .7326L1 .495L1.5 .3008L2 .192L3 .091L4 .0494L6 .0173L10 0"/>
<path transform="translate(1508 1351.8) scale(5 -45)" d="M-10 0L-6 .0173L-4 .0494L-3 .091L-2 .192L-1.5 .3008L-1 .495L-.6 .7326L-.3 .9166L0 1L.3 .9166L.6 .7326L1 .495L1.5 .3008L2 .192L3 .091L4 .0494L6 .0173L10 0"/>
<path transform="translate(1687 1352.1) scale(5 -60)" d="M-10 0L-6 .0173L-4 .0494L-3 .091L-2 .192L-1.5 .3008L-1 .495L-.6 .7326L-.3 .9166L0 1L.3 .9166L.6 .7326L1 .495L1.5 .3008L2 .192L3 .091L4 .0494L6 .0173L10 0"/>
<path transform="translate(1958 1352.5) scale(6 -4)" d="M-10 0L-6 .0173L-4 .0494L-3 .091L-2 .192L-1.5 .3008L-1 .495L-.6 .7326L-.3 .9166L0 1L.3 .9166L.6 .7326L1 .495L1.5 .3008L2 .192L3 .091L4 .0494L6 .0173L10 0"/>
<path transform="translate(2055 1352.7) scale(6 -9)" d="M-10 0L-6 .0173L-4 .0494L-3 .091L-2 .192L-1.5 .3008L-1 .495L-.6 .7326L-.3 .9166L0 1L.3 .9166L.6 .7326L1 .495L1.5 .3008L2 .192L3 .091L4 .0494L6 .0173L10 0"/>
<path transform="translate(2089 1352.7) scale(6 -5)" d="M-10 0L-6 .0173L-4 .0494L-3 .091L-2 .192L-1.5 .3008L-1 .495L-.6 .7326L-.3 .9166L0 1L.3 .9166L.6 .7326L1 .495L1.5 .3008L2 .192L3 .091L4 .0494L6 .0173L10 0"/>
</g>
</g>
</g>

<!-- standard sticks -->
<g stroke="#ff8800" stroke-width="5" fill="none">
<line x1="269" y1="1560" x2="269" y2="1499"/>
<line x1="647" y1="1560" x2="647" y2="1459"/>
<line x1="819" y1="1560" x2="819" y2="1326"/>
<line x1="872" y1="1560" x2="872" y2="1501"/>
<line x1="1064" y1="1560" x2="1064" y2="1472"/>
<line x1="1195" y1="1560" x2="1195" y2="1511"/>
<line x1="1396" y1="1560" x2="1396" y2="1493"/>
<line x1="1509" y1="1560" x2="1509" y2="1453"/>
<line x1="1689" y1="1560" x2="1689" y2="1433"/>
<line x1="1791" y1="1560" x2="1791" y2="1510"/>
<line x1="1958" y1="1560" x2="1958" y2="1505"/>
<line x1="2055" y1="1560" x2="2055" y2="1496"/>
<line x1="2087" y1="1560" x2="2087" y2="1504"/>
<line x1="2214" y1="1560" x2="2214" y2="1507"/>
</g>

<!-- frame -->
<rect x="164" y="26" width="2085" height="1535" fill="none" stroke="#000" stroke-width="5.5"/>
<!-- ticks -->
<g stroke="#000" stroke-width="4">
<line x1="324.4" y1="1561" x2="324.4" y2="1591"/>
<line x1="645.2" y1="1561" x2="645.2" y2="1591"/>
<line x1="966" y1="1561" x2="966" y2="1591"/>
<line x1="1286.8" y1="1561" x2="1286.8" y2="1591"/>
<line x1="1607.6" y1="1561" x2="1607.6" y2="1591"/>
<line x1="1928.4" y1="1561" x2="1928.4" y2="1591"/>
<line x1="2249" y1="1561" x2="2249" y2="1591"/>
<line x1="164" y1="1561" x2="164" y2="1576"/>
<line x1="484.8" y1="1561" x2="484.8" y2="1576"/>
<line x1="805.6" y1="1561" x2="805.6" y2="1576"/>
<line x1="1126.4" y1="1561" x2="1126.4" y2="1576"/>
<line x1="1447.2" y1="1561" x2="1447.2" y2="1576"/>
<line x1="1768" y1="1561" x2="1768" y2="1576"/>
<line x1="2088.8" y1="1561" x2="2088.8" y2="1576"/>
</g>

<!-- tick labels -->
<g font-size="71" font-weight="bold" fill="#000" text-anchor="middle">
<text x="317" y="1668">20</text>
<text x="638" y="1668">30</text>
<text x="959" y="1668">40</text>
<text x="1280" y="1668">50</text>
<text x="1601" y="1668">60</text>
<text x="1921" y="1668">70</text>
<text x="2242" y="1668">80</text>
</g>

<!-- x label -->
<text y="1773" fill="#000" font-size="94"><tspan x="1014" font-weight="bold">2</tspan><tspan x="1074" font-family="'Liberation Serif', 'DejaVu Serif', serif" font-style="italic">θ</tspan><tspan x="1143" font-weight="bold">(deg.)</tspan></text>

<!-- y label -->
<text transform="translate(83 791.5) rotate(-90)" text-anchor="middle" font-size="93" font-weight="bold" fill="#000">Intensity (a.u.)</text>

<!-- miller labels -->
<g font-size="68" font-weight="bold" fill="#000" text-anchor="middle">
<text transform="translate(284 253) rotate(-90)">(111)</text>
<text transform="translate(666 242) rotate(-90)">(220)</text>
<text transform="translate(835 158) rotate(-90)">(311)</text>
<text transform="translate(902 270) rotate(-90)">(222)</text>
<text transform="translate(1081 247.5) rotate(-90)">(400)</text>
<text transform="translate(1415 264) rotate(-90)">(422)</text>
<text transform="translate(1528 244) rotate(-90)">(511)</text>
<text transform="translate(1708 233) rotate(-90)">(440)</text>
<text transform="translate(2073 264.5) rotate(-90)">(533)</text>
</g>

<!-- sample labels -->
<g font-size="72" font-weight="bold" fill="#000" text-anchor="end">
<text x="597" y="341">5 mmol</text>
<text x="597" y="544">10 mmol</text>
<text x="597" y="738">20 mmol</text>
<text x="593" y="929">40 mmol</text>
<text x="597" y="1129">60 mmol</text>
<text x="593" y="1327">80 mmol</text>
</g>

<!-- standard text -->
<text x="830" y="1437" font-size="68" font-weight="bold" fill="#ff8a00">Standard Fe<tspan font-size="46" dy="17">3</tspan><tspan font-size="68" dy="-17">O</tspan><tspan font-size="46" dy="17">4</tspan><tspan font-size="68" dy="-17"> (Cubic, JCPDS no. 99-0073)</tspan></text>
</svg>
</body>
</html>
